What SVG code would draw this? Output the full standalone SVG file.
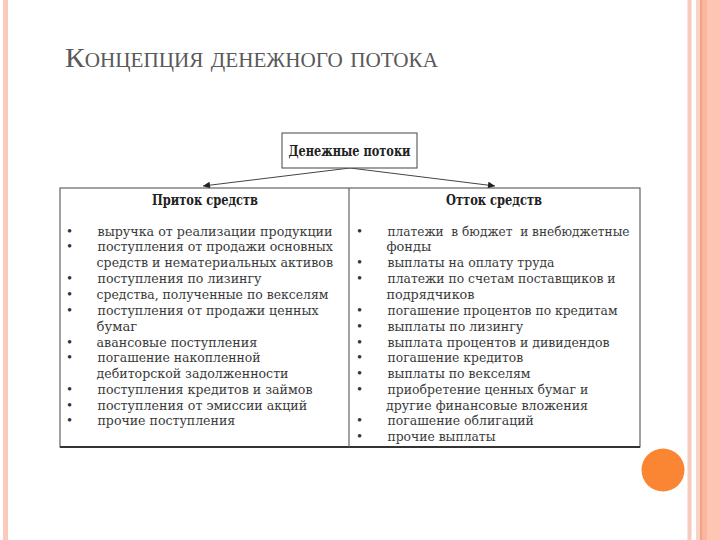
<svg xmlns="http://www.w3.org/2000/svg" width="720" height="540" viewBox="0 0 720 540">
<defs>
<style>
.t{font-family:"DejaVu Serif","Liberation Serif",serif;font-size:13.5px;fill:#3a3a3a}
.b{font-family:"Liberation Serif","DejaVu Serif",serif;font-size:14.5px;fill:#333}
.h{font-family:"DejaVu Serif","Liberation Serif",serif;font-size:14px;font-weight:bold;fill:#222}
.box{fill:#fff;stroke:#555;stroke-width:1.1}
.con{stroke:#444;stroke-width:1;fill:none}
</style>
<marker id="ah" viewBox="0 0 10 10" refX="10" refY="5" markerWidth="9" markerHeight="7" markerUnits="userSpaceOnUse" orient="auto">
<path d="M0,0 L10,5 L0,10 z" fill="#222"/>
</marker>
</defs>
<rect width="720" height="540" fill="#fff"/>
<!-- decorative stripes -->
<rect x="3" y="0" width="5" height="540" fill="#fbcabd"/>
<rect x="687.5" y="0" width="4" height="540" fill="#f6cbbd"/>
<rect x="696" y="0" width="24" height="540" fill="#fdc5b2"/>
<rect x="696" y="0" width="4" height="540" fill="#fbd2c3"/>
<rect x="700" y="0" width="2.5" height="540" fill="#f0a385"/>
<rect x="702.5" y="0" width="4.5" height="540" fill="#f8b79e"/>
<circle cx="663" cy="470" r="21.5" fill="#fa8634"/>
<!-- title -->
<text x="65" y="67" font-family="'Liberation Serif','DejaVu Serif',serif" font-size="28" font-variant="small-caps" fill="#595959" textLength="373" lengthAdjust="spacingAndGlyphs">Концепция денежного потока</text>

<g id="connectors">
<line class="con" x1="350" y1="168" x2="203" y2="186" marker-end="url(#ah)"/>
<line class="con" x1="350" y1="168" x2="495" y2="186" marker-end="url(#ah)"/>
</g>

<g id="node-root">
<rect class="box" x="282" y="133" width="135" height="35"/>
<text class="h" x="349.5" y="156" text-anchor="middle" textLength="122" lengthAdjust="spacingAndGlyphs">Денежные потоки</text>
</g>

<g id="table">
<rect x="60" y="188" width="580" height="259" fill="#fff" stroke="#555" stroke-width="1.1"/>
<line x1="60" y1="447" x2="640" y2="447" stroke="#333" stroke-width="1.8"/>
<line x1="349" y1="188" x2="349" y2="447" stroke="#555" stroke-width="1.1"/>
</g>

<g id="node-inflow">
<text class="h" x="205" y="205" text-anchor="middle" textLength="106" lengthAdjust="spacingAndGlyphs">Приток средств</text>
<g class="b">
<text x="67" y="236">•</text>
<text x="67" y="251">•</text>
<text x="67" y="283">•</text>
<text x="67" y="299">•</text>
<text x="67" y="315">•</text>
<text x="67" y="347">•</text>
<text x="67" y="362">•</text>
<text x="67" y="394">•</text>
<text x="67" y="410">•</text>
<text x="67" y="425">•</text>
</g>
<text class="t" x="97.5" y="236" textLength="235" lengthAdjust="spacingAndGlyphs">выручка от реализации продукции</text>
<text class="t" x="97.5" y="251" textLength="235.5" lengthAdjust="spacingAndGlyphs">поступления от продажи основных</text>
<text class="t" x="96.5" y="267" textLength="236.5" lengthAdjust="spacingAndGlyphs">средств и нематериальных активов</text>
<text class="t" x="97.5" y="283" textLength="164" lengthAdjust="spacingAndGlyphs">поступления по лизингу</text>
<text class="t" x="96.5" y="299" textLength="232" lengthAdjust="spacingAndGlyphs">средства, полученные по векселям</text>
<text class="t" x="97.5" y="315" textLength="221" lengthAdjust="spacingAndGlyphs">поступления от продажи ценных</text>
<text class="t" x="96.5" y="331" textLength="40.7" lengthAdjust="spacingAndGlyphs">бумаг</text>
<text class="t" x="96.5" y="347" textLength="160.7" lengthAdjust="spacingAndGlyphs">авансовые поступления</text>
<text class="t" x="97.5" y="362" textLength="163" lengthAdjust="spacingAndGlyphs">погашение накопленной</text>
<text class="t" x="96.5" y="378" textLength="192" lengthAdjust="spacingAndGlyphs">дебиторской задолженности</text>
<text class="t" x="97.5" y="394" textLength="215" lengthAdjust="spacingAndGlyphs">поступления кредитов и займов</text>
<text class="t" x="97.5" y="410" textLength="209.7" lengthAdjust="spacingAndGlyphs">поступления от эмиссии акций</text>
<text class="t" x="97.5" y="425" textLength="137.7" lengthAdjust="spacingAndGlyphs">прочие поступления</text>
</g>

<g id="node-outflow">
<text class="h" x="494" y="205" text-anchor="middle" textLength="96" lengthAdjust="spacingAndGlyphs">Отток средств</text>
<g class="b">
<text x="357" y="236">•</text>
<text x="357" y="267">•</text>
<text x="357" y="283">•</text>
<text x="357" y="315">•</text>
<text x="357" y="331">•</text>
<text x="357" y="347">•</text>
<text x="357" y="362">•</text>
<text x="357" y="378">•</text>
<text x="357" y="394">•</text>
<text x="357" y="425">•</text>
<text x="357" y="441">•</text>
</g>
<text class="t" x="387.5" y="236" textLength="242" lengthAdjust="spacingAndGlyphs" xml:space="preserve">платежи  в бюджет  и внебюджетные</text>
<text class="t" x="386.5" y="251" textLength="44.7" lengthAdjust="spacingAndGlyphs">фонды</text>
<text class="t" x="387.5" y="267" textLength="167" lengthAdjust="spacingAndGlyphs">выплаты на оплату труда</text>
<text class="t" x="387.5" y="283" textLength="228" lengthAdjust="spacingAndGlyphs">платежи по счетам поставщиков и</text>
<text class="t" x="386.5" y="299" textLength="88" lengthAdjust="spacingAndGlyphs">подрядчиков</text>
<text class="t" x="387.5" y="315" textLength="230" lengthAdjust="spacingAndGlyphs">погашение процентов по кредитам</text>
<text class="t" x="387.5" y="331" textLength="135.7" lengthAdjust="spacingAndGlyphs">выплаты по лизингу</text>
<text class="t" x="387.5" y="347" textLength="222" lengthAdjust="spacingAndGlyphs">выплата процентов и дивидендов</text>
<text class="t" x="387.5" y="362" textLength="135.7" lengthAdjust="spacingAndGlyphs">погашение кредитов</text>
<text class="t" x="387.5" y="378" textLength="143" lengthAdjust="spacingAndGlyphs">выплаты по векселям</text>
<text class="t" x="387.5" y="394" textLength="200.7" lengthAdjust="spacingAndGlyphs">приобретение ценных бумаг и</text>
<text class="t" x="386" y="410" textLength="202" lengthAdjust="spacingAndGlyphs">другие финансовые вложения</text>
<text class="t" x="387.5" y="425" textLength="146.3" lengthAdjust="spacingAndGlyphs">погашение облигаций</text>
<text class="t" x="387.5" y="441" textLength="108" lengthAdjust="spacingAndGlyphs">прочие выплаты</text>
</g>
</svg>
